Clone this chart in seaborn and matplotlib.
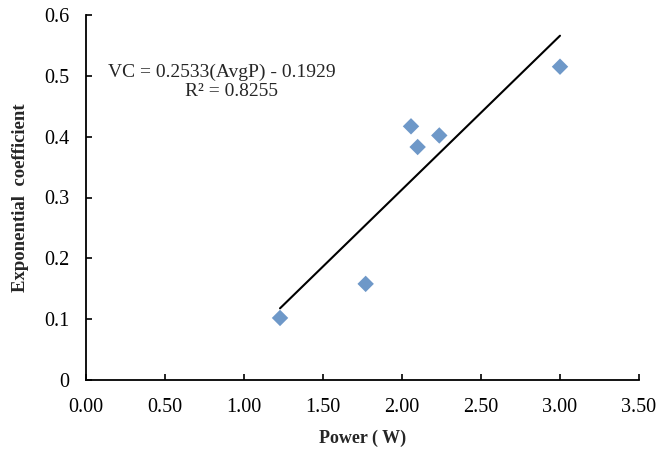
import matplotlib
matplotlib.use("Agg")
import matplotlib.pyplot as plt
import seaborn as sns
import pandas as pd
import numpy as np

power = [1.228, 1.770, 2.057, 2.099, 2.236, 3.00]
coef = [0.102, 0.158, 0.417, 0.383, 0.402, 0.515]
x_ticks = [0.0, 0.5, 1.0, 1.5, 2.0, 2.5, 3.0, 3.5]
y_ticks = [0.0, 0.1, 0.2, 0.3, 0.4, 0.5, 0.6]
eq_text = "VC = 0.2533(AvgP) - 0.1929"
r2_text = "R² = 0.8255"

sns.set_theme(style="ticks")
plt.rcParams['font.family'] = ['Liberation Serif', 'DejaVu Serif']

df = pd.DataFrame({"Power": power, "Coef": coef})

fig = plt.figure(figsize=(6.58, 4.53), dpi=100)
ax = fig.add_axes([86/658, 73/453, 553/658, 365/453])

sns.regplot(data=df, x="Power", y="Coef", ax=ax, ci=None, truncate=True,
            marker="D",
            scatter_kws=dict(s=70, color="#4A7EBB", edgecolor="none", zorder=3),
            line_kws=dict(color="black", linewidth=1.5, zorder=2))

ax.set_xlim(0, 3.5)
ax.set_ylim(0, 0.6)
ax.set_xticks(x_ticks)
ax.set_xticklabels([f"{v:.2f}" for v in x_ticks])
ax.set_yticks(y_ticks)
ax.set_yticklabels(["0"] + [f"{v:.1f}" for v in y_ticks[1:]])
ax.tick_params(direction="in", length=4, width=1.2, labelsize=14.5, colors="black")
ax.tick_params(axis="x", pad=13)
ax.tick_params(axis="y", pad=12)
for s in ["top", "right"]:
    ax.spines[s].set_visible(False)
for s in ["left", "bottom"]:
    ax.spines[s].set_linewidth(1.3)
    ax.spines[s].set_color("black")

ax.set_xlabel("Power ( W)", fontsize=13, fontweight="bold", labelpad=9)
ax.set_ylabel("Exponential  coefficient", fontsize=13.5, fontweight="bold", labelpad=11)

ax.text(0.861, 0.505, eq_text, ha="center", va="center", fontsize=14)
ax.text(0.924, 0.474, r2_text, ha="center", va="center", fontsize=14)

fig.savefig("out.png", dpi=100, facecolor="white")
